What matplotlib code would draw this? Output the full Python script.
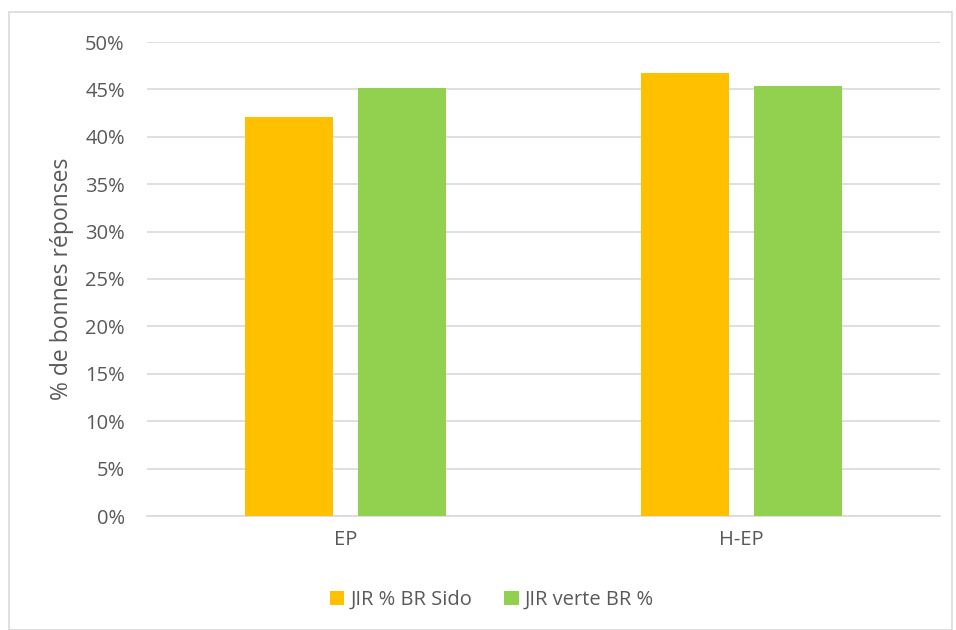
import matplotlib
matplotlib.use("Agg")
import matplotlib.pyplot as plt
from matplotlib.patches import Rectangle
import numpy as np

categories = ["EP", "H-EP"]
series_names = ["JIR % BR Sido", "JIR verte BR %"]
sido = [0.421, 0.467]
verte = [0.452, 0.454]
colors = ["#FFC000", "#92D050"]
yticks = [0, 0.05, 0.10, 0.15, 0.20, 0.25, 0.30, 0.35, 0.40, 0.45, 0.50]

plt.rcParams['font.family'] = ['Open Sans', 'DejaVu Sans']
txt = "#595959"
fs = 14.5

fig = plt.figure(figsize=(9.56, 6.30), dpi=100)
W, H = 956, 630
fig.patches.append(Rectangle((9/W, 0), (952-9)/W, 1-12/H, transform=fig.transFigure,
                             fill=False, edgecolor="#D9D9D9", linewidth=1.2))
ax = fig.add_axes([147/W, 1-516/H, (940-147)/W, (516-42)/H])

x = np.arange(len(categories))
bw = 0.222
gap = 0.063
off = (bw + gap) / 2
ax.bar(x - off, sido, bw, color=colors[0], label=series_names[0], zorder=3)
ax.bar(x + off, verte, bw, color=colors[1], label=series_names[1], zorder=3)

ax.set_xlim(-0.5, 1.5)
ax.set_ylim(0, 0.5)
ax.set_yticks(yticks)
ax.set_yticklabels([f"{int(round(v*100))}%" for v in yticks])
ax.grid(axis="y", color="#D9D9D9", linewidth=1.2, zorder=0)
ax.set_xticks(x)
ax.set_xticklabels(categories)
for s in ["top", "right", "left"]:
    ax.spines[s].set_visible(False)
ax.spines["bottom"].set_color("#D9D9D9")
ax.spines["bottom"].set_linewidth(1.2)
ax.tick_params(axis="both", length=0, colors=txt, labelsize=fs)
ax.tick_params(axis="y", pad=16)
ax.tick_params(axis="x", pad=10)
ax.set_ylabel("% de bonnes réponses", color=txt, fontsize=16.5, labelpad=8)

fig.legend(loc="center", bbox_to_anchor=(492/W, 1-600/H), ncol=2, frameon=False,
           fontsize=fs, labelcolor=txt, handlelength=0.7, handleheight=0.7,
           handletextpad=0.3, columnspacing=1.6)

fig.savefig("out.png", dpi=100)
